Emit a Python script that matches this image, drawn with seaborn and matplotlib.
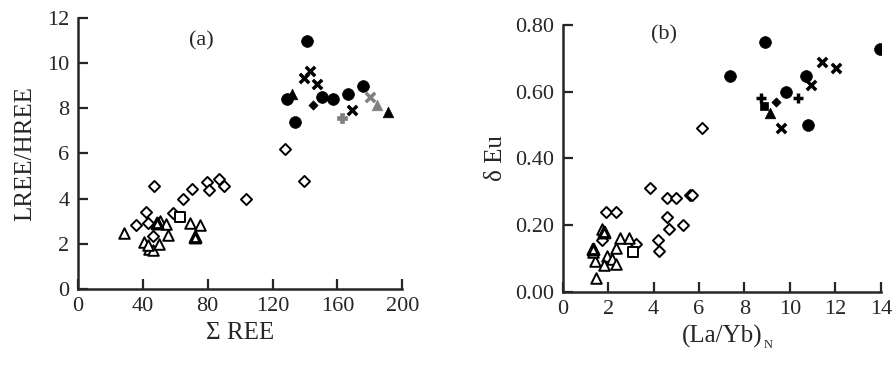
import matplotlib
matplotlib.use("Agg")
import matplotlib.pyplot as plt
import seaborn as sns
import pandas as pd

# ---------------- data: panel (a) ----------------
a_diamond_x = [36.1, 41.9, 43.5, 47.0, 46.0, 58.3, 64.5, 70.6, 79.7, 80.5, 86.7, 90.3, 103.5, 127.7, 139.2]
a_diamond_y = [2.85, 3.43, 2.94, 4.57, 2.37, 3.37, 4.00, 4.44, 4.75, 4.38, 4.87, 4.57, 4.00, 6.20, 4.78]
a_tri_x = [28.5, 40.5, 43.9, 46.2, 49.9, 50.9, 54.2, 55.4, 68.8, 75.0, 43.5]
a_tri_y = [2.50, 2.09, 1.79, 1.75, 2.00, 3.00, 2.87, 2.41, 2.94, 2.85, 1.94]
a_tri_bold_x = [48.5, 71.9]
a_tri_bold_y = [2.93, 2.30]
a_square_x = [63.2]
a_square_y = [3.21]
a_circle_x = [141.5, 129.2, 133.9, 150.5, 157.1, 166.7, 176.0]
a_circle_y = [10.96, 8.42, 7.38, 8.49, 8.42, 8.62, 8.98]
a_cross_x = [139.6, 143.3, 147.2, 168.8]
a_cross_y = [9.33, 9.66, 9.07, 7.93]
a_ftri_x = [131.8, 191.4]
a_ftri_y = [8.62, 7.85]
a_fdiam_x = [145.2]
a_fdiam_y = [8.15]
a_gplus_x = [162.6]
a_gplus_y = [7.56]
a_gcross_x = [180.1]
a_gcross_y = [8.52]
a_gtri_x = [184.2]
a_gtri_y = [8.15]

# ---------------- data: panel (b) ----------------
b_diamond_x = [6.13, 3.84, 4.57, 5.00, 5.60, 5.70, 1.92, 2.36, 4.57, 4.66, 5.28, 4.18, 4.22, 1.72, 3.23]
b_diamond_y = [0.491, 0.311, 0.281, 0.281, 0.291, 0.291, 0.241, 0.241, 0.224, 0.190, 0.200, 0.155, 0.122, 0.155, 0.144]
b_tri_x = [1.47, 1.42, 1.73, 1.95, 1.80, 2.17, 2.35, 2.35, 2.51, 2.93, 1.35]
b_tri_y = [0.042, 0.092, 0.190, 0.107, 0.082, 0.099, 0.084, 0.132, 0.162, 0.162, 0.120]
b_tri_bold_x = [1.35, 1.83]
b_tri_bold_y = [0.129, 0.180]
b_square_x = [3.08]
b_square_y = [0.120]
b_circle_x = [8.90, 7.38, 13.96, 10.79, 9.84, 10.70]
b_circle_y = [0.750, 0.647, 0.729, 0.500, 0.600, 0.647]
b_cross_x = [11.40, 12.05, 10.94, 9.62]
b_cross_y = [0.689, 0.670, 0.620, 0.490]
b_plus_x = [8.74, 10.35]
b_plus_y = [0.581, 0.581]
b_fdiam_x = [9.40]
b_fdiam_y = [0.568]
b_ftri_x = [9.11]
b_ftri_y = [0.536]
b_fsq_x = [8.88]
b_fsq_y = [0.556]

a_xticks = [0, 40, 80, 120, 160, 200]
a_yticks = [0, 2, 4, 6, 8, 10, 12]
b_xticks = [0, 2, 4, 6, 8, 10, 12, 14]
b_yticks = [0.0, 0.2, 0.4, 0.6, 0.8]

sns.set_theme(style="ticks")
plt.rcParams['font.family'] = ['Liberation Serif', 'DejaVu Serif']

fig = plt.figure(figsize=(8.96, 3.65), dpi=100)
axa = fig.add_axes([0.087, 0.208, 0.362, 0.743])
axb = fig.add_axes([0.628, 0.200, 0.355, 0.732])


def pts(ax, xs, ys, marker, s, fc, ec, lw):
    df = pd.DataFrame({"x": xs, "y": ys})
    sns.scatterplot(data=df, x="x", y="y", ax=ax, marker=marker, s=s,
                    facecolor=fc, edgecolor=ec, linewidth=lw, zorder=3, legend=False)


for ax, d in [(axa, dict(diamond=(a_diamond_x, a_diamond_y), tri=(a_tri_x, a_tri_y),
                         trib=(a_tri_bold_x, a_tri_bold_y), sq=(a_square_x, a_square_y),
                         circ=(a_circle_x, a_circle_y), cross=(a_cross_x, a_cross_y),
                         ftri=(a_ftri_x, a_ftri_y), fdiam=(a_fdiam_x, a_fdiam_y))),
              (axb, dict(diamond=(b_diamond_x, b_diamond_y), tri=(b_tri_x, b_tri_y),
                         trib=(b_tri_bold_x, b_tri_bold_y), sq=(b_square_x, b_square_y),
                         circ=(b_circle_x, b_circle_y), cross=(b_cross_x, b_cross_y),
                         ftri=(b_ftri_x, b_ftri_y), fdiam=(b_fdiam_x, b_fdiam_y)))]:
    pts(ax, *d["diamond"], "D", 32, "white", "black", 1.4)
    pts(ax, *d["tri"], "^", 58, "white", "black", 1.4)
    pts(ax, *d["trib"], "^", 58, "white", "black", 2.4)
    pts(ax, *d["sq"], "s", 62, "white", "black", 1.4)
    pts(ax, *d["circ"], "o", 72, "black", "black", 0.5)
    pts(ax, *d["cross"], "x", 45, "black", "black", 2.5)
    pts(ax, *d["ftri"], "^", 58, "black", "black", 0.5)
    pts(ax, *d["fdiam"], "D", 22, "black", "black", 0.5)

pts(axa, a_gplus_x, a_gplus_y, "P", 55, "#808080", "#808080", 0.5)
pts(axa, a_gcross_x, a_gcross_y, "x", 45, "#808080", "#808080", 2.5)
pts(axa, a_gtri_x, a_gtri_y, "^", 58, "#808080", "#808080", 0.5)
pts(axb, b_plus_x, b_plus_y, "+", 55, "black", "black", 2.5)
pts(axb, b_fsq_x, b_fsq_y, "s", 40, "black", "black", 0.5)

for ax in (axa, axb):
    sns.despine(ax=ax)
    for sp in ("left", "bottom"):
        ax.spines[sp].set_linewidth(1.8)
    ax.tick_params(direction="in", length=7, width=1.6, labelsize=16, pad=6)

axa.set_xlim(0, 200)
axa.set_ylim(0, 12)
axa.set_xticks(a_xticks)
axa.set_yticks(a_yticks)
axa.set_xlabel("Σ REE", fontsize=18, labelpad=4)
axa.set_ylabel("LREE/HREE", fontsize=18, labelpad=8)
axa.text(76, 11.0, "(a)", fontsize=16, ha="center", va="center")

axb.set_xlim(0, 14)
axb.set_ylim(0, 0.8)
axb.set_xticks(b_xticks)
axb.set_yticks(b_yticks)
axb.set_yticklabels([f"{v:.2f}" for v in b_yticks])
axb.set_xlabel("(La/Yb)", fontsize=18, labelpad=4)
xl = axb.xaxis.label
axb.annotate("N", xy=(1.0, 0.0), xycoords=xl, xytext=(1, -2), textcoords="offset points",
             fontsize=9, ha="left", va="bottom")
axb.set_ylabel("δ Eu", fontsize=18, labelpad=6)
axb.text(4.47, 0.77, "(b)", fontsize=16, ha="center", va="center")

fig.savefig("out.png", dpi=100)
